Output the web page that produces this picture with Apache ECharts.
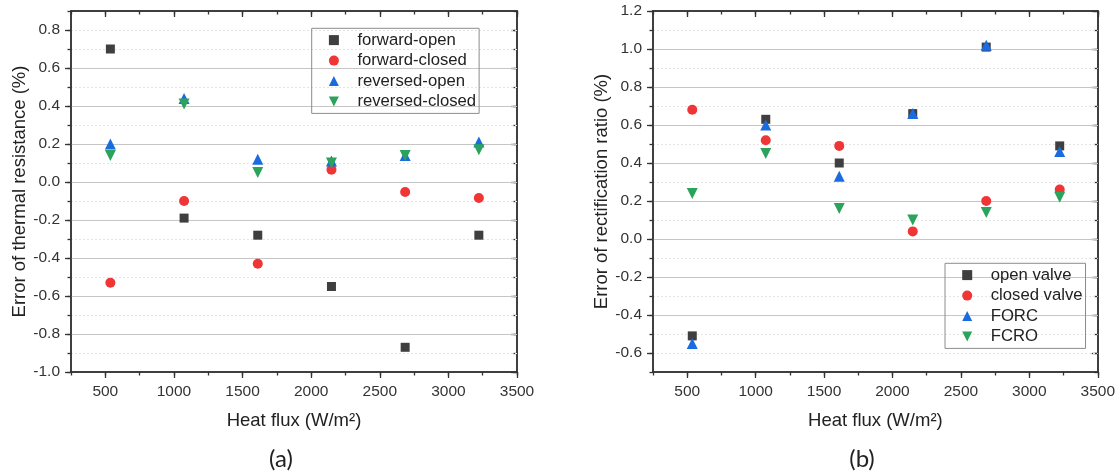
<!DOCTYPE html>
<html>
<head>
<meta charset="utf-8">
<script src="https://cdn.jsdelivr.net/npm/echarts@6/dist/echarts.min.js"></script>
<style>
  html, body { margin: 0; padding: 0; background: #fff; }
  #chart { width: 1118px; height: 471px; }
</style>
</head>
<body>
<div id="chart"></div>
<script>
// Heat flux levels (W/m²), shared by both panels
const heatFlux = [537, 1074, 1611, 2148, 2685, 3222];
const heatFluxTicks = [500, 1000, 1500, 2000, 2500, 3000, 3500];

// (a) error of thermal resistance, %
const forwardOpen    = [0.70, -0.19, -0.28, -0.55, -0.87, -0.28];
const forwardClosed  = [-0.53, -0.10, -0.43, 0.065, -0.053, -0.084];
const reversedOpen   = [0.20, 0.44, 0.12, 0.11, 0.14, 0.21];
const reversedClosed = [0.14, 0.41, 0.05, 0.10, 0.14, 0.17];
const resistanceTicks = [-1.0, -0.8, -0.6, -0.4, -0.2, 0.0, 0.2, 0.4, 0.6, 0.8];

// (b) error of rectification ratio, %
const openValve   = [-0.51, 0.63, 0.40, 0.66, 1.01, 0.49];
const closedValve = [0.68, 0.52, 0.49, 0.04, 0.20, 0.26];
const forc        = [-0.55, 0.60, 0.33, 0.66, 1.02, 0.46];
const fcro        = [0.24, 0.45, 0.16, 0.10, 0.14, 0.22];
const ratioTicks = [-0.6, -0.4, -0.2, 0.0, 0.2, 0.4, 0.6, 0.8, 1.0, 1.2];

const FONT = '"Liberation Sans", Arial, sans-serif';
const AXIS_COLOR = '#333';
const SQUARE = 'path://M0,0H10V10H0Z';
const TRI_UP = 'path://M5,0L10,10H0Z';
const TRI_DOWN = 'path://M0,0H10L5,10Z';
const COLORS = { gray: '#3f3f3f', red: '#ef3535', blue: '#1b6be0', green: '#2ba35c' };

const axisLine = { show: true, onZero: false, lineStyle: { color: AXIS_COLOR, width: 1.5 } };
const tickStyle = { color: AXIS_COLOR, width: 1.3 };

// Four x axes per panel: labelled major ticks + minor ticks at the bottom, mirrored inside at the top
function makeXAxes(grid, title) {
  const base = { gridIndex: grid, type: 'value', min: 250, max: 3500, interval: 250,
                 splitLine: { show: false }, axisLine };
  return [
    Object.assign({}, base, {
      position: 'bottom', name: title, nameLocation: 'middle', nameGap: 39,
      nameTextStyle: { fontFamily: FONT, fontSize: 18.5, color: '#222' },
      axisTick: { show: true, customValues: heatFluxTicks, length: 6, lineStyle: tickStyle },
      axisLabel: { show: true, customValues: heatFluxTicks, margin: 12, formatter: v => String(v),
                   fontFamily: FONT, fontSize: 15.5, color: '#333' }
    }),
    Object.assign({}, base, { position: 'bottom',
      axisTick: { show: true, length: 3.5, lineStyle: tickStyle }, axisLabel: { show: false } }),
    Object.assign({}, base, { position: 'top',
      axisTick: { show: true, inside: true, customValues: heatFluxTicks, length: 6, lineStyle: tickStyle },
      axisLabel: { show: false } }),
    Object.assign({}, base, { position: 'top',
      axisTick: { show: true, inside: true, length: 3.5, lineStyle: tickStyle }, axisLabel: { show: false } })
  ];
}

// Four y axes per panel: major ticks with solid grid lines, minor ticks with dotted grid lines
function makeYAxes(grid, title, min, max, majorTicks) {
  const base = { gridIndex: grid, type: 'value', min, max, interval: 0.1, axisLine };
  const fmt = v => v.toFixed(1);
  return [
    Object.assign({}, base, {
      position: 'left', name: title, nameLocation: 'middle', nameGap: 42,
      nameTextStyle: { fontFamily: FONT, fontSize: 18.5, color: '#222' },
      axisTick: { show: true, customValues: majorTicks, length: 6, lineStyle: tickStyle },
      axisLabel: { show: true, customValues: majorTicks, margin: 11, formatter: fmt,
                   fontFamily: FONT, fontSize: 15.5, color: '#333' },
      splitLine: { show: true, showMinLine: false, showMaxLine: false,
                   lineStyle: { color: '#c6c6c6', width: 1.2 } },
      z: 2
    }),
    Object.assign({}, base, { position: 'left',
      axisTick: { show: true, length: 3.5, lineStyle: tickStyle }, axisLabel: { show: false },
      splitLine: { show: true, showMinLine: false, showMaxLine: false,
                   lineStyle: { color: '#e4e4e4', width: 1, type: [2, 2] } },
      z: 1
    }),
    Object.assign({}, base, { position: 'right',
      axisTick: { show: true, inside: true, customValues: majorTicks, length: 6, lineStyle: tickStyle },
      axisLabel: { show: false }, splitLine: { show: false } }),
    Object.assign({}, base, { position: 'right',
      axisTick: { show: true, inside: true, length: 3.5, lineStyle: tickStyle },
      axisLabel: { show: false }, splitLine: { show: false } })
  ];
}

function scatter(name, values, symbol, size, color, axisIndex) {
  return {
    type: 'scatter', name, symbol, symbolSize: size,
    xAxisIndex: axisIndex, yAxisIndex: axisIndex,
    itemStyle: { color, opacity: 1 },
    emphasis: { disabled: true },
    data: heatFlux.map((x, i) => [x, values[i]]),
    z: 5
  };
}

function makeLegend(names, left, top) {
  return {
    data: names, orient: 'vertical', left, top,
    itemWidth: 37, itemHeight: 10, itemGap: 2.5,
    padding: [2.8, 3, 2.8, 17.2],
    borderColor: '#8c8c8c', borderWidth: 1,
    selectedMode: false,
    textStyle: { fontFamily: FONT, fontSize: 16.7, color: '#222', lineHeight: 18 }
  };
}

const chart = echarts.init(document.getElementById('chart'), null, { renderer: 'canvas' });

chart.setOption({
  animation: false,
  backgroundColor: '#fff',
  grid: [
    { left: 71, top: 11, width: 446, height: 361 },
    { left: 653, top: 11, width: 447, height: 361 }
  ],
  xAxis: makeXAxes(0, 'Heat flux (W/m²)').concat(makeXAxes(1, 'Heat flux (W/m²)')),
  yAxis: makeYAxes(0, 'Error of thermal resistance (%)', -1.0, 0.9, resistanceTicks)
    .concat(makeYAxes(1, 'Error of rectification ratio (%)', -0.7, 1.2, ratioTicks)),
  legend: [
    makeLegend(['forward-open', 'forward-closed', 'reversed-open', 'reversed-closed'], 311.7, 28.3),
    makeLegend(['open valve', 'closed valve', 'FORC', 'FCRO'], 945, 263.3)
  ],
  series: [
    scatter('forward-open', forwardOpen, SQUARE, 9, COLORS.gray, 0),
    scatter('forward-closed', forwardClosed, 'circle', 10, COLORS.red, 0),
    scatter('reversed-open', reversedOpen, TRI_UP, 11, COLORS.blue, 0),
    scatter('reversed-closed', reversedClosed, TRI_DOWN, 11, COLORS.green, 0),
    scatter('open valve', openValve, SQUARE, 9, COLORS.gray, 4),
    scatter('closed valve', closedValve, 'circle', 10, COLORS.red, 4),
    scatter('FORC', forc, TRI_UP, 11, COLORS.blue, 4),
    scatter('FCRO', fcro, TRI_DOWN, 11, COLORS.green, 4)
  ],
  graphic: [
    { type: 'text', x: 281, y: 459,
      style: { text: '(a)', align: 'center', verticalAlign: 'middle',
               font: '24px Lato, "Open Sans", sans-serif', fill: '#222' } },
    { type: 'text', x: 862, y: 459,
      style: { text: '(b)', align: 'center', verticalAlign: 'middle',
               font: '24px Lato, "Open Sans", sans-serif', fill: '#222' } }
  ]
});
</script>
</body>
</html>
